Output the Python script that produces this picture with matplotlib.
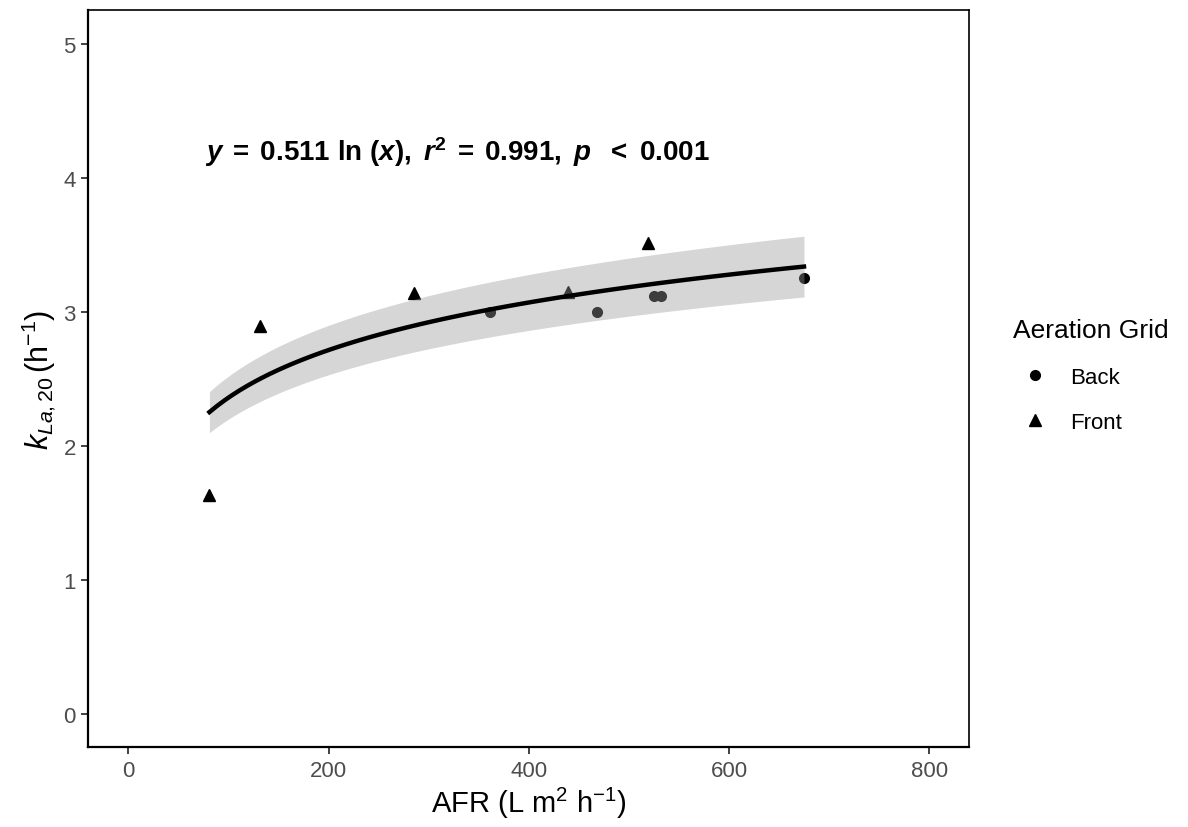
import numpy as np
import matplotlib
matplotlib.use("Agg")
import matplotlib.pyplot as plt
from matplotlib.lines import Line2D

plt.rcParams['font.family'] = ['Liberation Sans', 'DejaVu Sans']
plt.rcParams['mathtext.fontset'] = 'custom'
plt.rcParams['mathtext.rm'] = 'Liberation Sans'
plt.rcParams['mathtext.it'] = 'Liberation Sans:italic'
plt.rcParams['mathtext.bf'] = 'Liberation Sans:bold'
plt.rcParams['mathtext.bfit'] = 'Liberation Sans:bold:italic'

# данные
back_afr = [361.6, 468, 525, 532, 674.8]
back_kla = [3.00, 3.00, 3.12, 3.12, 3.25]
front_afr = [81, 131.5, 285.2, 439, 518.7]
front_kla = [1.634, 2.89, 3.137, 3.15, 3.51]

x_all = np.array(back_afr + front_afr)
y_all = np.array(back_kla + front_kla)

# регрессия y = b*ln(x) через начало координат и 95% доверительный интервал
lx = np.log(x_all)
b = np.sum(y_all * lx) / np.sum(lx ** 2)
rss = np.sum((y_all - b * lx) ** 2)
df = len(x_all) - 1
se_b = np.sqrt(rss / df / np.sum(lx ** 2))
t_crit = 2.262  # t(0.975, 9)

xs = np.linspace(x_all.min(), x_all.max(), 80)
ys = b * np.log(xs)
half = t_crit * se_b * np.log(xs)

fig = plt.figure(figsize=(11.88, 8.28), dpi=100)
ax = fig.add_axes([0.0743, 0.0963, 0.7417, 0.8904])

ax.plot(back_afr, back_kla, 'o', color='black', markersize=7, zorder=2)
ax.plot(front_afr, front_kla, '^', color='black', markersize=8.5, zorder=2)
ax.fill_between(xs, ys - half, ys + half, color='#999999', alpha=0.4, lw=0, zorder=3)
ax.plot(xs, ys, color='black', lw=3.2, zorder=4)

ax.text(77, 4.2,
        r'$\mathbfit{y}\mathbf{\;=\;0.511\ ln\ (}\mathbfit{x}\mathbf{),\ }'
        r'\mathbfit{r}^{\mathbf{2}}\mathbf{\;=\;0.991,\ }\mathbfit{p}\mathbf{\ \ <\ 0.001}$',
        fontsize=20, ha='left', va='center')

ax.set_xlim(-40, 840)
ax.set_ylim(-0.25, 5.25)
ax.set_xticks([0, 200, 400, 600, 800])
ax.set_yticks([0, 1, 2, 3, 4, 5])
ax.tick_params(labelsize=16, labelcolor='#4D4D4D', color='#333333', length=5, width=1.3, pad=4)

for s in ['left', 'bottom']:
    ax.spines[s].set_linewidth(1.6)
for s in ['top', 'right']:
    ax.spines[s].set_linewidth(1.2)

ax.set_xlabel(r'AFR $(\mathrm{L\ m^2\ h^{-1}})$', fontsize=21, labelpad=3)
ax.set_ylabel(r'$k_{\mathit{La,20}}\,(\mathrm{h}^{-1})$', fontsize=22, labelpad=4)

handles = [Line2D([], [], marker='o', ls='', color='black', markersize=7),
           Line2D([], [], marker='^', ls='', color='black', markersize=8)]
leg = fig.legend(handles, ['Back', 'Front'], title='Aeration Grid',
                 loc='center left', bbox_to_anchor=(0.845, 0.545),
                 frameon=False, fontsize=16, title_fontsize=19,
                 handletextpad=0.6, labelspacing=1.1, borderaxespad=0)
leg._legend_box.align = 'left'

fig.savefig('out.png', dpi=100)
